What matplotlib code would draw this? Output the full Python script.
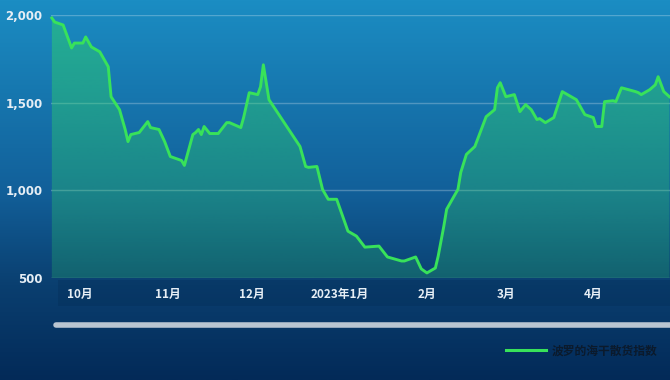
import numpy as np
import pandas as pd
import matplotlib
matplotlib.use("Agg")
from matplotlib import pyplot as plt
from matplotlib.colors import LinearSegmentedColormap
from matplotlib.lines import Line2D
from matplotlib.patches import Rectangle
from matplotlib.ticker import FixedLocator, StrMethodFormatter
import matplotlib.dates as mdates

plt.rcParams['font.family'] = ['Noto Sans CJK SC', 'DejaVu Sans']

# 波罗的海干散货指数
dates = ["2022-09-21", "2022-09-22", "2022-09-25", "2022-09-28", "2022-09-29",
         "2022-10-02", "2022-10-03", "2022-10-05", "2022-10-08", "2022-10-11",
         "2022-10-12", "2022-10-15", "2022-10-17", "2022-10-18", "2022-10-19",
         "2022-10-22", "2022-10-25", "2022-10-26", "2022-10-29", "2022-10-31",
         "2022-11-02", "2022-11-06", "2022-11-07", "2022-11-10", "2022-11-11",
         "2022-11-12", "2022-11-13", "2022-11-14", "2022-11-16", "2022-11-19",
         "2022-11-22", "2022-11-23", "2022-11-27", "2022-11-28", "2022-11-30",
         "2022-12-03", "2022-12-04", "2022-12-05", "2022-12-07", "2022-12-18",
         "2022-12-20", "2022-12-21", "2022-12-24", "2022-12-26", "2022-12-28",
         "2022-12-31", "2023-01-04", "2023-01-07", "2023-01-10", "2023-01-15",
         "2023-01-18", "2023-01-23", "2023-01-24", "2023-01-28", "2023-01-30",
         "2023-02-01", "2023-02-04", "2023-02-05", "2023-02-07", "2023-02-08",
         "2023-02-10", "2023-02-12", "2023-02-13", "2023-02-15", "2023-02-18",
         "2023-02-22", "2023-02-25", "2023-02-26", "2023-02-27", "2023-03-01",
         "2023-03-04", "2023-03-06", "2023-03-08", "2023-03-10", "2023-03-12",
         "2023-03-13", "2023-03-15", "2023-03-18", "2023-03-21", "2023-03-26",
         "2023-03-28", "2023-03-29", "2023-04-01", "2023-04-02", "2023-04-04",
         "2023-04-05", "2023-04-08", "2023-04-09", "2023-04-11", "2023-04-16",
         "2023-04-17", "2023-04-18", "2023-04-21", "2023-04-23", "2023-04-24",
         "2023-04-26", "2023-04-28"]
bdi = [1983, 1960, 1943, 1812, 1840,
       1840, 1875, 1818, 1790, 1705,
       1534, 1460, 1347, 1278, 1318,
       1330, 1392, 1358, 1347, 1278,
       1193, 1170, 1142, 1318, 1330,
       1347, 1318, 1364, 1324, 1324,
       1386, 1386, 1358, 1415, 1557,
       1546, 1591, 1716, 1517, 1250,
       1136, 1131, 1136, 1005, 949,
       949, 767, 739, 676, 682,
       620, 597, 597, 620, 552,
       529, 557, 625, 796, 892,
       949, 1005, 1102, 1205, 1250,
       1420, 1460, 1585, 1614, 1534,
       1546, 1449, 1489, 1460, 1404,
       1409, 1386, 1415, 1563, 1517,
       1460, 1432, 1415, 1364, 1364,
       1506, 1511, 1506, 1585, 1563,
       1557, 1546, 1574, 1602, 1648,
       1563, 1534]

tick_dates = ["2022-10-01", "2022-11-01", "2022-12-01", "2023-01-01",
              "2023-02-01", "2023-03-01", "2023-04-01"]
tick_labels = ["10月", "11月", "12月", "2023年1月", "2月", "3月", "4月"]
y_ticks = [500, 1000, 1500, 2000]
series_name = "波罗的海干散货指数"

x = pd.to_datetime(dates)
xt = pd.to_datetime(tick_dates)

W, H = 670, 380
fig = plt.figure(figsize=(W / 100, H / 100), dpi=100)

# 背景渐变
bg = fig.add_axes([0, 0, 1, 1], zorder=-10)
cmap = LinearSegmentedColormap.from_list(
    "bg", [(0.0, "#1b8dc3"), (0.5, "#12609a"), (0.75, "#0a3f70"), (1.0, "#032a58")])
bg.imshow(np.linspace(0, 1, 256).reshape(-1, 1), aspect="auto", cmap=cmap,
          extent=[0, 1, 0, 1])
bg.axis("off")

# x轴标签区域的深色带
fig.patches.append(Rectangle((58 / W, 1 - 306 / H), 1, 26 / H, transform=fig.transFigure,
                             facecolor="#04284f", alpha=0.25, edgecolor="none", zorder=-5))

ax = fig.add_axes([51 / W, 1 - 278 / H, 619 / W, 263 / H])
ax.patch.set_alpha(0)

x0 = pd.Timestamp("2022-10-01")
xlim = (x0 - pd.Timedelta(days=10.3), x0 + pd.Timedelta(days=209.2))
ax.set_xlim(xlim)
ax.set_ylim(500, 2000)

line_color = "#38e25a"
# 渐变填充
poly = ax.fill_between(x, bdi, 500, color="none", linewidth=0)
n = 256
rgba = np.zeros((n, 1, 4))
rgba[:, 0, 0:3] = matplotlib.colors.to_rgb("#30d865")
rgba[:, 0, 3] = np.linspace(0.48, 0.22, n)
xl = mdates.date2num(xlim)
img = ax.imshow(rgba, aspect="auto", extent=[xl[0], xl[1], 500, 2000],
                origin="upper", zorder=2)
img.set_clip_path(poly.get_paths()[0], transform=ax.transData)
ax.set_xlim(xlim)
ax.set_ylim(500, 2000)

ax.plot(x, bdi, color=line_color, linewidth=2.1, solid_joinstyle="round", zorder=3,
        label=series_name, clip_on=False)

ax.yaxis.set_major_locator(FixedLocator(y_ticks))
ax.yaxis.set_major_formatter(StrMethodFormatter("{x:,.0f}"))
ax.set_xticks(xt)
ax.set_xticklabels(tick_labels)
ax.tick_params(axis="both", length=0, colors="#e6eef5", labelsize=8.5)
ax.tick_params(axis="y", pad=6)
ax.tick_params(axis="x", pad=7)
for lab in ax.get_xticklabels() + ax.get_yticklabels():
    lab.set_fontweight("bold")
for lab in ax.get_yticklabels():
    lab.set_fontfamily("DejaVu Sans")

ax.grid(axis="y", color="white", alpha=0.25, linewidth=1)
ax.grid(axis="x", visible=False)
for s in ax.spines.values():
    s.set_visible(False)

# 滚动条
fig.lines.append(Line2D([56 / W, 1.01], [1 - 325 / H] * 2, transform=fig.transFigure,
                        color="#b9c5d1", linewidth=4, solid_capstyle="round"))

leg = fig.legend(handles=[Line2D([], [], color=line_color, linewidth=2.2)],
                 labels=[series_name], loc="center right",
                 bbox_to_anchor=(668 / W, 1 - 351 / H), frameon=False,
                 handlelength=3.4, handletextpad=0.5, fontsize=8.5)
for t in leg.get_texts():
    t.set_color("#0b1a2c")
    t.set_fontweight("bold")

fig.savefig("out.png", dpi=100)
